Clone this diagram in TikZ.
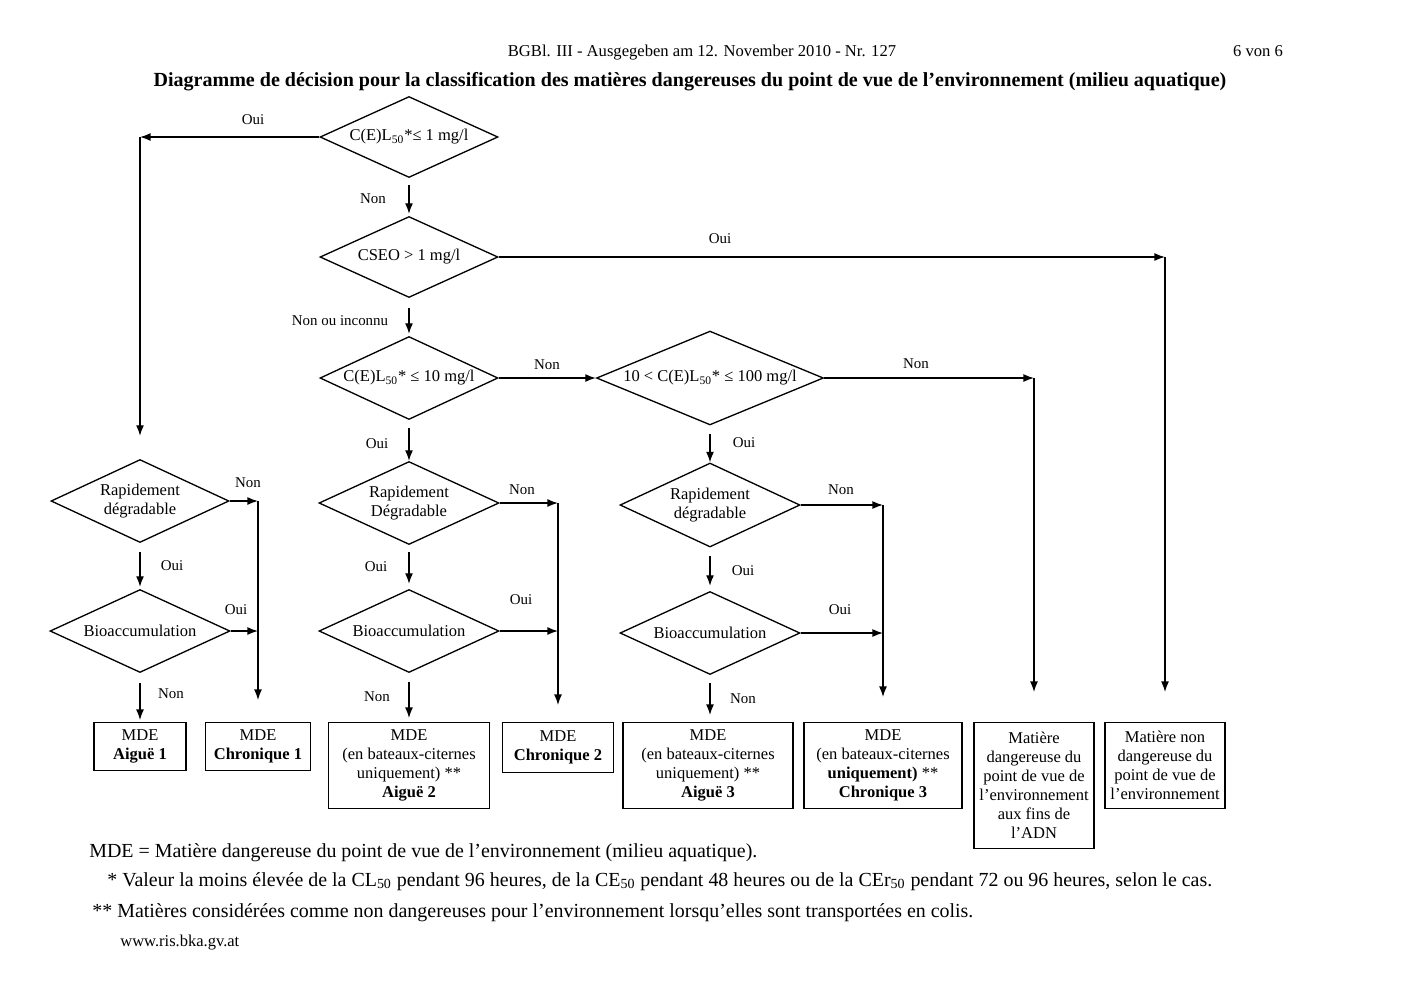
\documentclass[tikz,border=0pt]{standalone}
\usepackage{fontspec}
\setmainfont{Liberation Serif}
\usepackage{tikz}
\usetikzlibrary{shapes.geometric}
\usetikzlibrary{arrows.meta}
\usetikzlibrary{positioning}

\begin{document}
\begin{tikzpicture}[x=0.02cm,y=-0.02cm]
	\tikzset{decision/.style = {shape=diamond,draw,line width=0.75pt,
			inner sep = 0pt, aspect=2.2, align=center,
			font=\fontsize{9.4}{10.8}\selectfont}}
	\tikzset{result/.style = {shape=rectangle,draw,line width=0.75pt,
			inner sep = 0pt, align=center, anchor=north,
			font=\fontsize{9.4}{10.8}\selectfont}}
	\tikzset{edge/.style = {-{Latex[length=6pt,width=4.5pt]}, line width=0.75pt}}
	\tikzset{answer/.style = {font=\fontsize{8.5}{10}\selectfont}}
	\tikzset{note/.style = {anchor=base west, inner sep=0pt, font=\fontsize{11.35}{13}\selectfont}}

	\useasboundingbox (0,0) rectangle (1403,992);

	% page head
	\node[anchor=base, font=\fontsize{9.45}{11}\selectfont] (head) at (702,56) {BGBl. III - Ausgegeben am 12. November 2010 - Nr. 127};
	\node[anchor=base, font=\fontsize{9.45}{11}\selectfont] (page) at (1258,56) {6 von 6};
	\node[anchor=base, font=\bfseries\fontsize{11.4}{13}\selectfont] (title) at (690,86) {Diagramme de décision pour la classification des matières dangereuses du point de vue de l’environnement (milieu aquatique)};

	% vertices
	\node[decision, minimum width=3.56cm, minimum height=1.62cm] (d1) at (409,137) {C(E)L\textsubscript{50}*≤ 1 mg/l};
	\node[decision, minimum width=3.56cm, minimum height=1.62cm] (d2) at (409,257) {CSEO > 1 mg/l};
	\node[decision, minimum width=3.56cm, minimum height=1.66cm] (d3) at (409,378) {C(E)L\textsubscript{50}* ≤ 10 mg/l};
	\node[decision, minimum width=4.54cm, minimum height=1.66cm] (d4) at (710,378) {10 < C(E)L\textsubscript{50}* ≤ 100 mg/l};

	\node[decision, minimum width=3.56cm, minimum height=1.66cm] (l1) at (140,501) {Rapidement\\dégradable};
	\node[decision, minimum width=3.6cm, minimum height=1.66cm] (l2) at (140,631) {Bioaccumulation};
	\node[decision, minimum width=3.6cm, minimum height=1.66cm] (m1) at (409,503) {Rapidement\\Dégradable};
	\node[decision, minimum width=3.6cm, minimum height=1.66cm] (m2) at (409,631) {Bioaccumulation};
	\node[decision, minimum width=3.6cm, minimum height=1.68cm] (r1) at (710,505) {Rapidement\\dégradable};
	\node[decision, minimum width=3.6cm, minimum height=1.66cm] (r2) at (710,633) {Bioaccumulation};

	\node[result, minimum width=1.84cm, minimum height=0.96cm] (b1) at (140,722) {MDE\\\textbf{Aiguë 1}};
	\node[result, minimum width=2.1cm, minimum height=0.96cm] (b2) at (258,722) {MDE\\\textbf{Chronique 1}};
	\node[result, minimum width=3.22cm, minimum height=1.72cm] (b3) at (409,722) {MDE\\(en bateaux-citernes\\uniquement) **\\\textbf{Aiguë 2}};
	\node[result, minimum width=2.22cm, minimum height=1cm] (b4) at (558,722) {MDE\\\textbf{Chronique 2}};
	\node[result, minimum width=3.4cm, minimum height=1.72cm] (b5) at (708,722) {MDE\\(en bateaux-citernes\\uniquement) **\\\textbf{Aiguë 3}};
	\node[result, minimum width=3.16cm, minimum height=1.72cm] (b6) at (883,722) {MDE\\(en bateaux-citernes\\\textbf{uniquement)} **\\\textbf{Chronique 3}};
	\node[result, minimum width=2.4cm, minimum height=2.52cm] (b7) at (1034,722) {Matière\\dangereuse du\\point de vue de\\l’environnement\\aux fins de\\l’ADN};
	\node[result, minimum width=2.4cm, minimum height=1.72cm] (b8) at (1165,722) {Matière non\\dangereuse du\\point de vue de\\l’environnement};

	\coordinate (c1) at (140,137);
	\coordinate (c2) at (1165,257);
	\coordinate (c3) at (1034,378);
	\coordinate (c4) at (258,501);
	\coordinate (c5) at (558,503);
	\coordinate (c6) at (883,505);

	% answers
	\node[answer] (a1) at (253,120) {Oui};
	\node[answer] (a2) at (373,199) {Non};
	\node[answer] (a3) at (720,239) {Oui};
	\node[answer] (a4) at (340,321) {Non ou inconnu};
	\node[answer] (a5) at (547,365) {Non};
	\node[answer] (a6) at (916,364) {Non};
	\node[answer] (a7) at (377,444) {Oui};
	\node[answer] (a8) at (744,443) {Oui};
	\node[answer] (a9) at (248,483) {Non};
	\node[answer] (a10) at (172,566) {Oui};
	\node[answer] (a11) at (236,610) {Oui};
	\node[answer] (a12) at (171,694) {Non};
	\node[answer] (a13) at (522,490) {Non};
	\node[answer] (a14) at (376,567) {Oui};
	\node[answer] (a15) at (521,600) {Oui};
	\node[answer] (a16) at (377,697) {Non};
	\node[answer] (a17) at (841,490) {Non};
	\node[answer] (a18) at (743,571) {Oui};
	\node[answer] (a19) at (840,610) {Oui};
	\node[answer] (a20) at (743,699) {Non};

	%edges
	\draw[edge] (d1) -- (c1);
	\draw[edge, shorten >=0.46cm] (c1) -- (l1.north);
	\draw[edge, shorten <=0.14cm, shorten >=0.04cm] (d1) -- (d2);
	\draw[edge] (d2) -- (c2);
	\draw[edge, shorten >=0.6cm] (c2) -- (b8.north);
	\draw[edge, shorten <=0.2cm, shorten >=0.04cm] (d2) -- (d3);
	\draw[edge] (d3) -- (d4);
	\draw[edge] (d4) -- (c3);
	\draw[edge, shorten >=0.6cm] (c3) -- (b7.north);
	\draw[edge, shorten <=0.16cm] (d3) -- (m1);
	\draw[edge, shorten <=0.16cm] (d4) -- (r1);

	\draw[edge] (l1) -- (c4);
	\draw[edge, shorten >=0.44cm] (c4) -- (b2.north);
	\draw[edge] (l2) -- (c4 |- l2.east);
	\draw[edge, shorten <=0.18cm, shorten >=0.04cm] (l1) -- (l2);
	\draw[edge, shorten <=0.2cm, shorten >=0.04cm] (l2) -- (b1);

	\draw[edge] (m1) -- (c5);
	\draw[edge, shorten >=0.34cm] (c5) -- (b4.north);
	\draw[edge] (m2) -- (c5 |- m2.east);
	\draw[edge, shorten <=0.14cm, shorten >=0.1cm] (m1) -- (m2);
	\draw[edge, shorten <=0.18cm, shorten >=0.08cm] (m2) -- (b3);

	\draw[edge] (r1) -- (c6);
	\draw[edge, shorten >=0.5cm] (c6) -- (b6.north);
	\draw[edge] (r2) -- (c6 |- r2.east);
	\draw[edge, shorten <=0.16cm, shorten >=0.1cm] (r1) -- (r2);
	\draw[edge, shorten <=0.16cm, shorten >=0.14cm] (r2.south) -- (r2.south |- b5.north);

	% notes
	\node[note] (n1) at (89,857) {MDE = Matière dangereuse du point de vue de l’environnement (milieu aquatique).};
	\node[note] (n2) at (107,886) {* Valeur la moins élevée de la CL\textsubscript{50} pendant 96 heures, de la CE\textsubscript{50} pendant 48 heures ou de la CEr\textsubscript{50} pendant 72 ou 96 heures, selon le cas.};
	\node[note] (n3) at (92,917) {** Matières considérées comme non dangereuses pour l’environnement lorsqu’elles sont transportées en colis.};
	\node[note, font=\fontsize{9.4}{11}\selectfont] (n4) at (120,946) {www.ris.bka.gv.at};
\end{tikzpicture}
\end{document}
